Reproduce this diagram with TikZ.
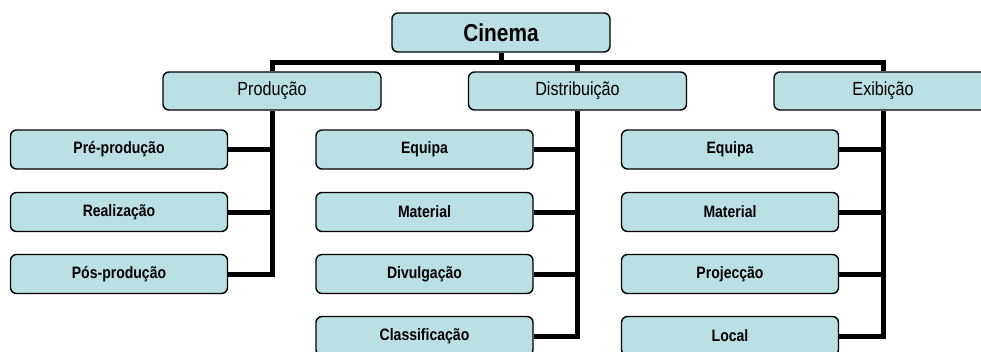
\documentclass[tikz,border=0pt]{standalone}
\usepackage{fontspec}
\setmainfont{Liberation Sans}[FakeStretch=0.85]
\definecolor{boxfill}{RGB}{186,224,227}
\begin{document}
\begin{tikzpicture}[x=1pt,y=-1pt,
  box/.style={draw=black, line width=1.4pt, fill=boxfill, rounded corners=6pt,
    minimum width=218pt, minimum height=39pt, inner sep=0pt, anchor=center},
  topbox/.style={box, font=\fontsize{24.5}{26}\selectfont\bfseries},
  midbox/.style={box, minimum height=38pt, font=\fontsize{19}{21}\selectfont},
  leafbox/.style={box, minimum width=217pt, font=\fontsize{16.5}{18}\selectfont\bfseries},
  conn/.style={line width=5pt, line join=miter, draw=black}]
\useasboundingbox (0,0) rectangle (981,351);
\coordinate (bar) at (0,62);
% connectors first (behind boxes)
\node[topbox] (cinema) at (501,32.5) {Cinema};
\node[midbox] (prod) at (272,91) {Produção};
\node[midbox] (dist) at (577.5,91) {Distribuição};
\node[midbox] (exib) at (883,91) {Exibição};

\node[leafbox] (p1) at (119,149.5) {Pré-produção};
\node[leafbox] (p2) at (119,212) {Realização};
\node[leafbox] (p3) at (119,274) {Pós-produção};

\node[leafbox] (d1) at (424.5,149.5) {Equipa};
\node[leafbox] (d2) at (424.5,212) {Material};
\node[leafbox] (d3) at (424.5,274) {Divulgação};
\node[leafbox] (d4) at (424.5,336) {Classificação};

\node[leafbox] (e1) at (730,149.5) {Equipa};
\node[leafbox] (e2) at (730,212) {Material};
\node[leafbox] (e3) at (730,274) {Projecção};
\node[leafbox] (e4) at (730,336) {Local};

\begin{scope}[on background layer/.style={}]
\draw[conn] (cinema.south) -- (cinema.south |- bar);
\draw[conn] (prod.north) -- (prod.north |- bar) -- (exib.north |- bar) -- (exib.north);
\draw[conn] (dist.north) -- (dist.north |- bar);

\draw[conn] (prod.south) -- (prod.south |- p3.east) -- (p3.east);
\draw[conn] (p1.east) -- (p1.east -| prod.south);
\draw[conn] (p2.east) -- (p2.east -| prod.south);

\draw[conn] (dist.south) -- (dist.south |- d4.east) -- (d4.east);
\draw[conn] (d1.east) -- (d1.east -| dist.south);
\draw[conn] (d2.east) -- (d2.east -| dist.south);
\draw[conn] (d3.east) -- (d3.east -| dist.south);

\draw[conn] (exib.south) -- (exib.south |- e4.east) -- (e4.east);
\draw[conn] (e1.east) -- (e1.east -| exib.south);
\draw[conn] (e2.east) -- (e2.east -| exib.south);
\draw[conn] (e3.east) -- (e3.east -| exib.south);
\end{scope}
\end{tikzpicture}
\end{document}
